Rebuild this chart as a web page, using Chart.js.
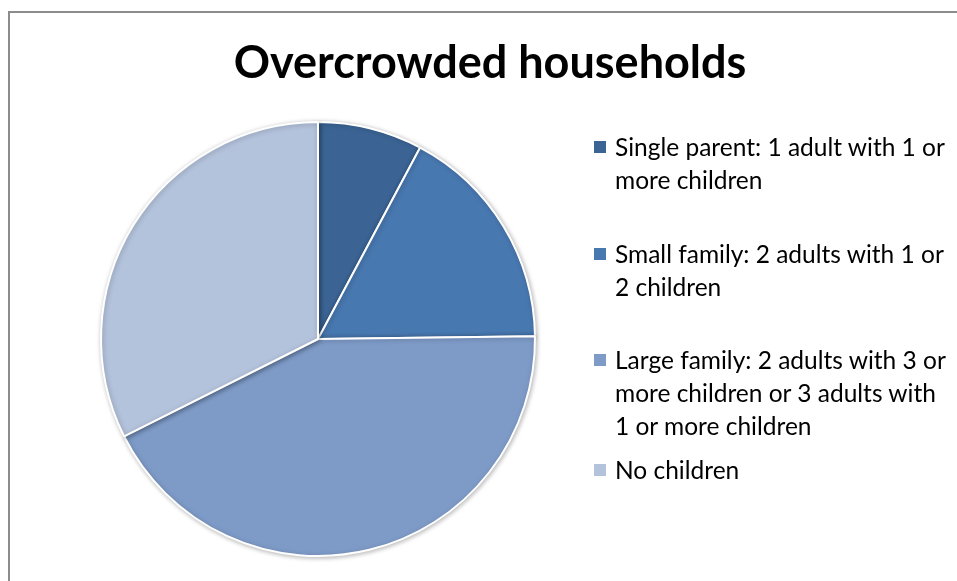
<!DOCTYPE html>
<html>
<head>
<meta charset="utf-8">
<script src="https://cdn.jsdelivr.net/npm/chart.js@4/dist/chart.umd.min.js"></script>
<style>
  html, body { margin: 0; padding: 0; background: #fff; width: 957px; height: 581px; overflow: hidden; }
  #frame { position: absolute; left: 8px; top: 11px; width: 1000px; height: 700px; border: 2px solid #8c8c8c; box-sizing: border-box; }
  #chart { position: absolute; left: 0; top: 0; }
  #title { position: absolute; left: 0; width: 980px; top: 34px; text-align: center; font-family: Lato, "Open Sans", sans-serif; font-weight: bold; font-size: 45px; color: #000; }
  .item { position: absolute; left: 594px; font-family: Lato, "Open Sans", sans-serif; font-size: 24.5px; line-height: 33px; color: #000; }
  .item .box { position: absolute; left: 0; top: 11px; width: 12px; height: 12px; }
  .item .txt { margin-left: 21px; white-space: nowrap; }
</style>
</head>
<body>
<div id="frame"></div>
<canvas id="chart" width="957" height="581"></canvas>
<div id="title">Overcrowded households</div>
<div id="legend"></div>
<script>
// household types and their share of overcrowded households (%)
const categories = [
  'Single parent: 1 adult with 1 or more children',
  'Small family: 2 adults with 1 or 2 children',
  'Large family: 2 adults with 3 or more children or 3 adults with 1 or more children',
  'No children'
];
const legendLines = [
  ['Single parent: 1 adult with 1 or', 'more children'],
  ['Small family: 2 adults with 1 or', '2 children'],
  ['Large family: 2 adults with 3 or', 'more children or 3 adults with', '1 or more children'],
  ['No children']
];
const shares = [7.8, 17.0, 42.8, 32.4];
const colors = ['#3b6495', '#4878b0', '#7e9bc8', '#b4c3dc'];
const legendTops = [130, 237, 343, 453];

// legend built from the same arrays
const legend = document.getElementById('legend');
legendLines.forEach((lines, i) => {
    const item = document.createElement('div');
    item.className = 'item';
    item.style.top = legendTops[i] + 'px';
    const box = document.createElement('div');
    box.className = 'box';
    box.style.background = colors[i];
    const txt = document.createElement('div');
    txt.className = 'txt';
    txt.innerHTML = lines.join('<br>');
    item.appendChild(box);
    item.appendChild(txt);
    legend.appendChild(item);
});

// soft shadow under the pie
const shadowPlugin = {
    id: 'pieShadow',
    beforeDatasetsDraw(chart) {
        const ctx = chart.ctx;
        ctx.save();
        ctx.shadowColor = 'rgba(0,0,0,0.28)';
        ctx.shadowBlur = 5;
        ctx.shadowOffsetX = 1;
        ctx.shadowOffsetY = 1;
    },
    afterDatasetsDraw(chart) {
        chart.ctx.restore();
    }
};

const ctx = document.getElementById('chart').getContext('2d');
new Chart(ctx, {
    type: 'pie',
    data: {
        labels: categories,
        datasets: [{
            data: shares,
            backgroundColor: colors,
            borderColor: '#ffffff',
            borderWidth: 2,
            hoverOffset: 0
        }]
    },
    options: {
        responsive: false,
        animation: false,
        devicePixelRatio: 1,
        layout: {
            padding: { left: 100, top: 121, right: 421, bottom: 24 }
        },
        plugins: {
            legend: { display: false },
            title: { display: false },
            tooltip: { enabled: false }
        }
    },
    plugins: [shadowPlugin]
});
</script>
</body>
</html>
